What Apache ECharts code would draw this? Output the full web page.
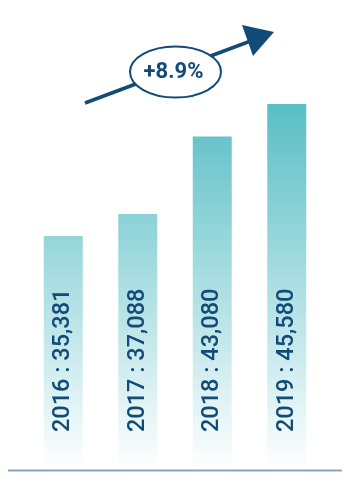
<!DOCTYPE html>
<html>
<head>
<meta charset="utf-8">
<script src="https://cdn.jsdelivr.net/npm/echarts@6/dist/echarts.min.js"></script>
<style>
  html, body { margin: 0; padding: 0; background: #ffffff; }
  #chart { width: 346px; height: 481px; }
</style>
</head>
<body>
<div id="chart"></div>
<script>
const years = ['2016', '2017', '2018', '2019'];
const values = [35381, 37088, 43080, 45580];
const growthLabel = '+8.9%';

const navy = '#124a78';
const chart = echarts.init(document.getElementById('chart'), null, { renderer: 'canvas' });

const option = {
  animation: false,
  backgroundColor: '#ffffff',
  grid: { left: 26, right: 22, top: 80, bottom: 11 },
  xAxis: {
    type: 'category',
    data: years,
    axisLine: { show: false },
    axisTick: { show: false },
    axisLabel: { show: false },
    splitLine: { show: false }
  },
  yAxis: {
    type: 'value',
    min: 17300,
    max: 47440,
    show: false,
    splitLine: { show: false }
  },
  series: [{
    type: 'bar',
    data: values,
    barWidth: 39,
    itemStyle: {
      color: new echarts.graphic.LinearGradient(0, 109, 0, 470, [
        { offset: 0, color: '#5bbfc6' },
        { offset: 1, color: '#ffffff' }
      ], true)
    },
    label: {
      show: true,
      position: 'insideBottom',
      distance: 38,
      rotate: 90,
      align: 'left',
      verticalAlign: 'middle',
      fontFamily: 'Roboto',
      fontWeight: 500,
      fontSize: 23.5,
      color: navy,
      formatter: function (p) {
        return years[p.dataIndex] + ' : ' + values[p.dataIndex].toLocaleString('en-US');
      }
    }
  }],
  graphic: [
    {
      type: 'line',
      shape: { x1: 8, y1: 470.5, x2: 342, y2: 470.5 },
      style: { stroke: '#88a5bd', lineWidth: 2 },
      z: 10
    },
    {
      type: 'line',
      shape: { x1: 85, y1: 103, x2: 256, y2: 39 },
      style: { stroke: navy, lineWidth: 3.5 },
      z: 10
    },
    {
      type: 'polygon',
      shape: { points: [[242, 25], [274, 32], [253, 56]] },
      style: { fill: navy },
      z: 10
    },
    {
      type: 'ellipse',
      shape: { cx: 175.5, cy: 72, rx: 45.5, ry: 25.5 },
      style: { fill: '#ffffff', stroke: navy, lineWidth: 2 },
      z: 11
    },
    {
      type: 'text',
      x: 173.5,
      y: 72,
      style: {
        text: growthLabel,
        fill: navy,
        font: 'bold 22px Roboto',
        textAlign: 'center',
        textVerticalAlign: 'middle'
      },
      z: 12
    }
  ]
};
chart.setOption(option);
</script>
</body>
</html>
